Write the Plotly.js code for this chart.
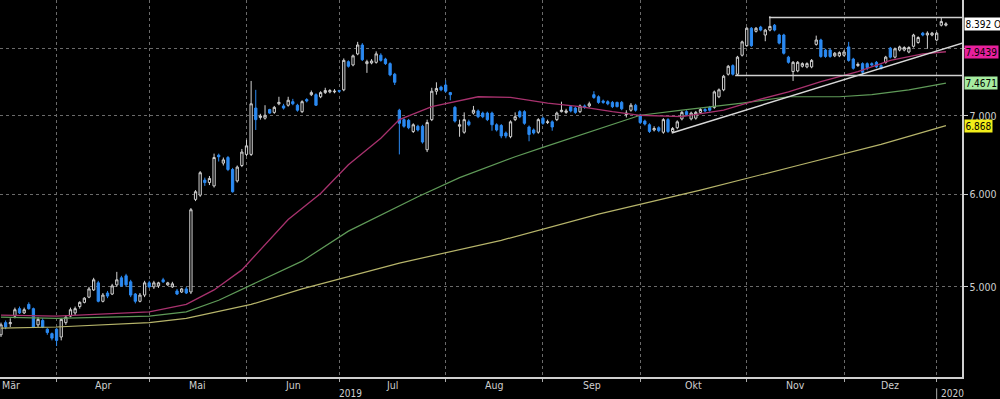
<!DOCTYPE html>
<html><head><meta charset="utf-8">
<script src="https://cdn.plot.ly/plotly-3.0.1.min.js"></script>
<style>html,body{margin:0;padding:0;background:#000;}#chart{width:1000px;height:399px;}</style>
</head><body><div id="chart"></div>
<script>
// ---- candle data (one entry per trading day, March 2019 - Jan 2020) ----
const openP = [4.55,4.66,4.65,4.72,4.79,4.75,4.83,4.79,4.64,4.68,4.60,4.56,4.60,4.53,4.66,4.72,4.75,4.81,4.85,4.90,
4.97,5.04,4.86,4.94,4.93,5.02,5.09,5.11,5.05,4.93,4.86,4.92,5.04,5.00,5.01,5.07,5.02,5.00,4.96,4.95,
4.98,4.95,5.94,5.99,6.17,6.14,6.10,6.48,6.38,6.45,6.30,6.16,6.35,6.49,6.49,7.11,6.98,6.97,7.09,7.05,
7.17,7.14,7.15,7.20,7.15,7.06,7.23,7.30,7.30,7.27,7.33,7.34,7.34,7.36,7.37,7.79,7.74,7.91,8.05,7.76,
7.77,7.78,7.89,7.83,7.76,7.60,7.08,6.95,6.94,6.79,6.86,6.86,6.55,6.95,7.35,7.41,7.44,7.33,7.12,6.86,
6.78,6.92,7.04,7.07,7.04,7.04,7.04,6.88,6.87,6.77,6.72,6.95,7.06,7.06,6.85,6.81,6.78,6.97,6.91,6.92,
6.95,7.06,7.05,7.13,7.11,7.06,7.14,7.14,7.30,7.27,7.21,7.20,7.19,7.19,7.19,7.02,7.08,7.15,7.01,6.93,
6.88,6.81,6.84,6.78,6.95,6.79,6.84,6.96,7.06,6.96,6.97,7.05,7.09,7.12,7.12,7.27,7.37,7.60,7.73,7.60,
7.89,8.04,8.32,8.27,8.34,8.21,8.29,8.37,8.21,8.21,7.86,7.64,7.65,7.72,7.71,7.71,8.06,8.13,7.97,7.97,
7.88,7.88,7.89,8.02,7.83,7.73,7.76,7.76,7.76,7.78,7.73,7.78,8.00,7.86,7.97,7.97,7.94,8.03,8.09,8.24,
8.21,8.21,8.13,8.37,8.37];
const highP = [4.66,4.68,4.70,4.80,4.81,4.80,4.85,4.80,4.71,4.70,4.61,4.57,4.61,4.70,4.73,4.80,4.81,4.86,4.90,5.00,
5.09,5.06,4.94,4.96,5.03,5.15,5.11,5.13,5.07,4.94,4.94,5.06,5.06,5.06,5.05,5.09,5.05,5.05,4.98,4.99,
5.00,5.84,6.05,6.28,6.20,6.22,6.50,6.50,6.45,6.47,6.32,6.35,6.56,6.68,7.50,7.37,7.03,7.15,7.10,7.14,
7.27,7.17,7.27,7.24,7.17,7.22,7.25,7.36,7.32,7.35,7.40,7.38,7.38,7.37,7.84,7.81,7.90,8.10,8.08,7.82,
7.83,7.95,7.92,7.85,7.78,7.62,7.10,6.97,6.96,6.90,6.88,6.88,6.95,7.40,7.48,7.43,7.51,7.34,7.14,6.95,
7.05,6.95,7.14,7.09,7.06,7.06,7.06,6.90,6.89,6.79,6.94,7.05,7.08,7.08,6.87,6.83,6.97,6.99,6.95,6.94,
7.06,7.20,7.10,7.15,7.13,7.16,7.16,7.20,7.35,7.29,7.23,7.22,7.21,7.20,7.21,7.08,7.18,7.17,7.03,6.95,
6.90,6.86,6.86,6.97,6.97,6.85,6.94,7.07,7.08,7.06,7.07,7.11,7.11,7.14,7.36,7.39,7.59,7.74,7.75,7.88,
8.12,8.34,8.34,8.34,8.36,8.31,8.52,8.39,8.23,8.23,7.88,7.80,7.80,7.78,7.78,7.83,8.20,8.15,7.99,7.99,
7.94,7.95,7.97,8.10,7.85,7.78,7.78,7.78,7.78,7.80,7.75,7.88,8.02,8.01,8.04,8.03,8.03,8.23,8.19,8.26,
8.27,8.26,8.26,8.50,8.42];
const lowP = [4.53,4.60,4.62,4.70,4.74,4.74,4.78,4.61,4.62,4.61,4.55,4.50,4.45,4.50,4.64,4.71,4.73,4.79,4.84,4.89,
4.96,4.85,4.85,4.89,4.92,5.00,5.00,5.00,4.90,4.84,4.85,4.90,4.99,4.98,4.99,5.04,5.01,4.99,4.92,4.94,
4.93,4.93,5.92,5.97,6.10,6.11,6.08,6.40,6.35,6.28,6.02,6.14,6.33,6.47,6.47,6.81,6.95,6.95,7.03,7.03,
7.15,7.09,7.13,7.15,7.06,7.04,7.19,7.28,7.14,7.25,7.31,7.32,7.32,7.33,7.35,7.70,7.72,7.89,7.80,7.62,
7.75,7.76,7.79,7.74,7.57,7.44,6.49,6.84,6.82,6.77,6.79,6.63,6.52,6.93,7.30,7.35,7.33,7.22,6.91,6.72,
6.76,6.86,7.02,6.97,6.97,6.93,6.80,6.79,6.70,6.70,6.70,6.93,6.97,6.88,6.66,6.75,6.76,6.88,6.89,6.80,
6.93,7.05,7.03,7.05,7.03,7.04,7.10,7.12,7.24,7.17,7.17,7.15,7.11,7.12,7.08,6.98,7.06,7.06,6.89,6.87,
6.77,6.79,6.78,6.76,6.77,6.77,6.82,6.94,7.00,6.94,6.95,7.03,7.05,7.06,7.10,7.25,7.35,7.58,7.58,7.58,
7.87,8.02,8.02,8.25,8.27,8.11,8.27,8.27,8.06,7.90,7.76,7.50,7.63,7.70,7.69,7.69,8.04,7.85,7.85,7.85,
7.86,7.86,7.87,7.79,7.67,7.71,7.58,7.66,7.72,7.69,7.67,7.76,7.84,7.84,7.95,7.95,7.92,8.01,8.07,8.19,
7.99,8.19,8.11,8.35,8.35];
const closeP = [4.64,4.62,4.66,4.78,4.75,4.78,4.79,4.62,4.69,4.62,4.57,4.52,4.50,4.69,4.71,4.78,4.79,4.85,4.89,4.98,
5.07,4.86,4.92,4.91,5.01,5.07,5.01,5.02,4.92,4.86,4.92,5.04,5.00,5.04,5.04,5.05,5.04,5.03,4.93,4.98,
4.94,5.82,6.03,6.26,6.14,6.19,6.45,6.46,6.42,6.30,6.03,6.33,6.52,6.60,7.17,6.95,7.00,7.01,7.04,7.12,
7.19,7.11,7.22,7.17,7.08,7.20,7.21,7.33,7.15,7.33,7.36,7.36,7.35,7.35,7.81,7.72,7.88,8.05,7.82,7.79,
7.80,7.91,7.81,7.76,7.59,7.48,6.90,6.86,6.84,6.88,6.81,6.65,6.91,7.35,7.39,7.37,7.35,7.30,6.93,6.88,
6.95,6.88,7.08,6.99,6.99,6.95,6.88,6.81,6.73,6.73,6.92,6.99,6.99,6.90,6.75,6.77,6.95,6.90,6.92,6.85,
7.04,7.08,7.07,7.07,7.05,7.14,7.12,7.17,7.26,7.19,7.19,7.17,7.13,7.13,7.10,7.04,7.15,7.08,6.91,6.89,
6.79,6.83,6.80,6.95,6.79,6.83,6.92,7.05,7.02,7.04,7.05,7.09,7.07,7.08,7.34,7.37,7.57,7.72,7.60,7.86,
8.10,8.32,8.04,8.32,8.29,8.29,8.35,8.29,8.08,7.92,7.78,7.78,7.78,7.76,7.76,7.81,8.13,7.87,7.87,7.87,
7.92,7.93,7.94,7.81,7.69,7.75,7.63,7.70,7.74,7.71,7.69,7.86,7.86,7.99,8.02,8.01,8.01,8.21,8.17,8.21,
8.24,8.24,8.24,8.43,8.392];

// ---- x-axis: first trading-day index of each month, and labels ----
const monthNames  = ['Mär','Apr','Mai','Jun','Jul','Aug','Sep','Okt','Nov','Dez'];
const monthStarts = [-9, 12, 32, 53, 73, 96, 117, 138, 161, 182, 202];
const yearNames   = ['2019', '2020'];
const yearStarts  = [-51, 202];

// ---- moving averages (trading-day index, value) ----
const maPinkX  = [0,12,32,40,46,52,62,69,75,82,86,93,103,110,118,125,132,138,147,156,163,170,177,185,192,199,204];
const maPinkY  = [4.73,4.72,4.76,4.83,4.97,5.17,5.71,6.01,6.36,6.70,6.95,7.13,7.27,7.26,7.18,7.13,7.06,7.01,6.99,7.08,7.22,7.34,7.49,7.64,7.81,7.91,7.9439];
const maGreenX = [0,12,32,40,47,54,65,75,90,99,111,117,132,138,147,160,170,181,188,196,204];
const maGreenY = [4.71,4.70,4.72,4.76,4.87,5.02,5.26,5.58,5.97,6.20,6.46,6.58,6.88,7.01,7.08,7.18,7.27,7.27,7.30,7.37,7.4671];
const maYellowX = [0,12,32,40,54,65,86,108,129,151,172,190,204];
const maYellowY = [4.61,4.62,4.66,4.70,4.83,4.98,5.24,5.48,5.77,6.05,6.35,6.62,6.868];

// ---- drawn annotations: trend line and range box ----
const trendX = [144.8, 207.5], trendY = [6.77, 8.08];
const boxTopX = [165.8, 207.5], boxTopY = [8.50, 8.50];
const boxBotX = [158.5, 207.5], boxBotY = [7.58, 7.58];

const yTicks = [5, 6, 7, 8];
const yTickText = ['5.000', '6.000', '7.000', ''];   // 8.000 is hidden behind the tag in the original

const idx = openP.map((_, i) => i);
const FONT = "'Liberation Sans Narrow', 'DejaVu Sans Condensed', 'Liberation Sans', sans-serif";
const AX = '#cfcfcf';
const BLUE = '#2b8af2';

const traces = [
  {type:'scatter', mode:'lines', x:maYellowX, y:maYellowY, line:{color:'#b6b46a', width:1.2}, hoverinfo:'skip'},
  {type:'scatter', mode:'lines', x:maGreenX, y:maGreenY, line:{color:'#5f9a58', width:1.2}, hoverinfo:'skip'},
  {type:'scatter', mode:'lines', x:maPinkX, y:maPinkY, line:{color:'#a8326e', width:1.3}, hoverinfo:'skip'},
  {type:'scatter', mode:'lines', x:trendX, y:trendY, line:{color:'#d8d8d8', width:1.5}, hoverinfo:'skip'},
  {type:'scatter', mode:'lines', x:boxTopX, y:boxTopY, line:{color:'#d0d0d0', width:1.5}, hoverinfo:'skip'},
  {type:'scatter', mode:'lines', x:boxBotX, y:boxBotY, line:{color:'#d0d0d0', width:1.5}, hoverinfo:'skip'},
  {type:'candlestick', x:idx, open:openP, high:highP, low:lowP, close:closeP,
   increasing:{line:{color:'#d2d2d2', width:1}, fillcolor:'#000000'},
   decreasing:{line:{color:BLUE, width:1}, fillcolor:BLUE},
   whiskerwidth:0, hoverinfo:'skip'}
];

// value tags on the right
const last = closeP.length - 1;
const tags = [
  {v: closeP[last], text: closeP[last] + ' OG', bg:'#ffffff'},
  {v: maPinkY[maPinkY.length-1], text: String(maPinkY[maPinkY.length-1]), bg:'#e8209c'},
  {v: maGreenY[maGreenY.length-1], text: String(maGreenY[maGreenY.length-1]), bg:'#a6eca0'},
  {v: maYellowY[maYellowY.length-1], text: String(maYellowY[maYellowY.length-1]), bg:'#f2ee1a'}
];
const xMax = 207.47;
traces.push({type:'scatter', mode:'markers', x:tags.map(()=>xMax+0.5), y:tags.map(t=>t.v),
  marker:{symbol:'triangle-left', size:7, color:tags.map(t=>t.bg), line:{width:0}}, cliponaxis:false, hoverinfo:'skip'});

const annotations = [];
tags.forEach(t => annotations.push({xref:'paper', x:1, xanchor:'left', xshift:2, yref:'y', y:Math.log10(t.v), yanchor:'middle',
  text:t.text, showarrow:false, bgcolor:t.bg, font:{family:FONT, size:10, color:'#000'}, borderpad:0.5}));

for (let i = 0; i < monthNames.length; i++) {
  const c = (monthStarts[i]+monthStarts[i+1])/2;
  const first = i === 0;
  annotations.push({xref:'x', x: first ? -0.216 : c, xanchor: first ? 'left' : 'center', yref:'paper', y:0, yanchor:'middle', yshift:-8,
    text:monthNames[i], showarrow:false, font:{family:FONT, size:10.5, color:AX}});
}
annotations.push({xref:'x', x:(yearStarts[0]+yearStarts[1])/2, yref:'paper', y:0, yanchor:'middle', yshift:-16,
  text:yearNames[0], showarrow:false, font:{family:FONT, size:10, color:AX}});
annotations.push({xref:'x', x:yearStarts[1], xanchor:'left', xshift:2, yref:'paper', y:0, yanchor:'middle', yshift:-16,
  text:yearNames[1], showarrow:false, font:{family:FONT, size:10, color:AX}});

const layout = {
  width:1000, height:399,
  paper_bgcolor:'#000', plot_bgcolor:'#000',
  margin:{l:0, r:38, t:0, b:22},
  showlegend:false, hovermode:false,
  font:{family:FONT, color:AX, size:11},
  xaxis:{type:'linear', range:[-0.216, xMax], rangeslider:{visible:false},
    tickvals:monthStarts, showticklabels:false, ticks:'outside', ticklen:3, tickcolor:'#aaa',
    showgrid:true, gridcolor:'#6a6a6a', griddash:'dot', gridwidth:1,
    showline:true, linecolor:AX, linewidth:1.5, zeroline:false, fixedrange:true},
  yaxis:{type:'log', side:'right', range:[Math.log10(4.187), Math.log10(8.796)],
    tickvals:yTicks, ticktext:yTickText, ticks:'outside', ticklen:4, tickcolor:AX,
    tickfont:{family:FONT, size:10.5, color:AX},
    showgrid:true, gridcolor:'#6a6a6a', griddash:'dot', gridwidth:1,
    showline:true, linecolor:AX, linewidth:1.5, zeroline:false, fixedrange:true},
  annotations:annotations,
  shapes:[{type:'line', xref:'x', x0:yearStarts[1], x1:yearStarts[1], yref:'paper', y0:-0.03, y1:-0.06,
    line:{color:'#aaa', width:1}}]
};

Plotly.newPlot('chart', traces, layout, {displayModeBar:false, staticPlot:true});
</script>
</body></html>
